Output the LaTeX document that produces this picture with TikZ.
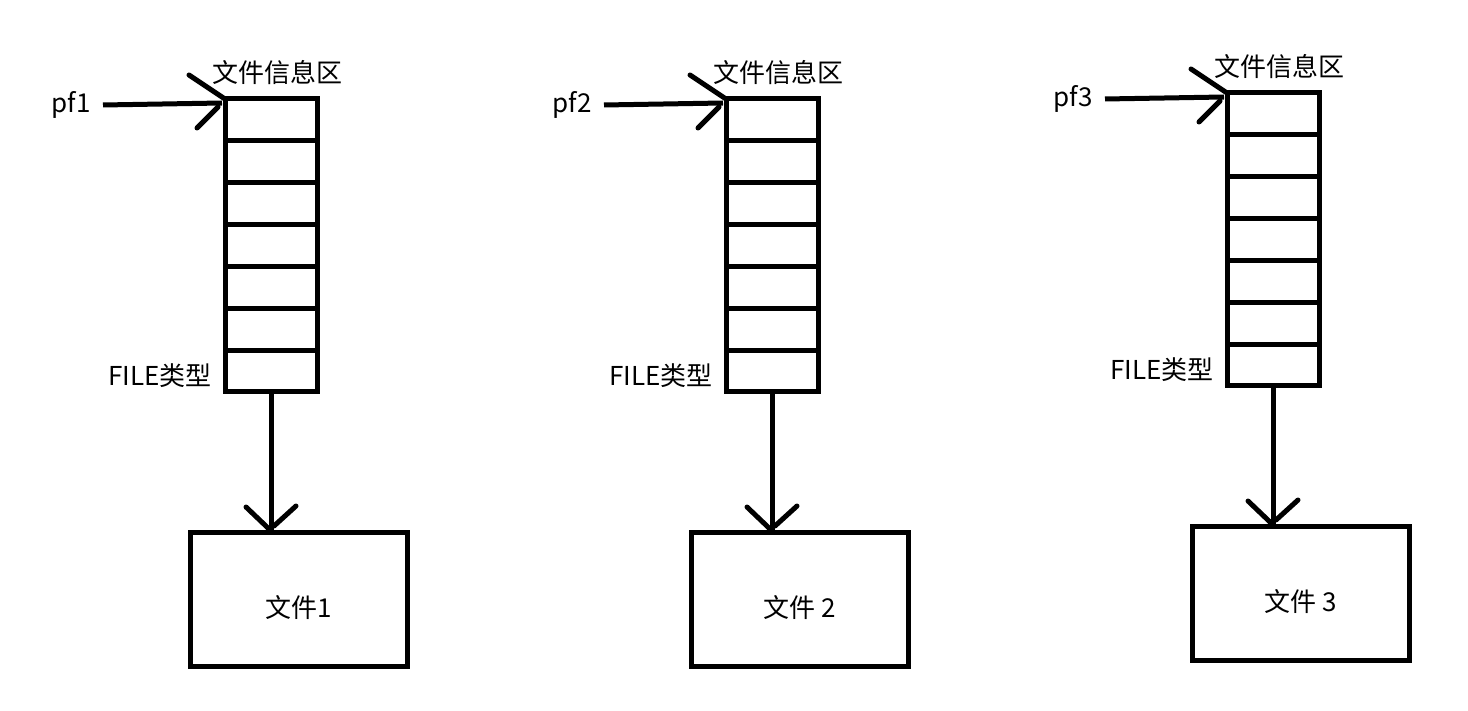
\documentclass[tikz,border=0pt]{standalone}
\usepackage{fontspec}
\setmainfont{Noto Sans CJK SC}
\usetikzlibrary{calc}
\begin{document}
\begin{tikzpicture}[x=1pt,y=-1pt,line width=5pt,
  lbl/.style={inner sep=0pt,font=\fontsize{26pt}{30pt}\selectfont},
  stackbox/.style={draw,minimum width=92pt,minimum height=293pt,inner sep=0pt,outer sep=0pt,anchor=north west},
  filebox/.style={draw,minimum width=217pt,minimum height=134pt,inner sep=0pt,outer sep=0pt,anchor=north west,
    text height=36pt,text depth=0pt,font=\fontsize{26pt}{30pt}\selectfont},
  barb/.style={line cap=round}]
\useasboundingbox[fill=white] (0,0) rectangle (1468,711);
\foreach \i/\x/\t/\f in {1/225/99/{文件1},2/726/99/{文件 2},3/1227/93/{文件 3}} {
  \node[stackbox] (s\i) at (\x,\t) {};
  \foreach \k in {1,...,6}
    \draw ($(s\i.north west)!\k/7!(s\i.south west)$) -- ($(s\i.north east)!\k/7!(s\i.south east)$);
  \node[lbl] (h\i) at (\x+52,\t-26) {文件信息区};
  \node[lbl,anchor=east] (p\i) at (\x-132,\t+6) {pf\i};
  \node[lbl,anchor=east] (t\i) at (\x-11,\t+277) {FILE类型};
  \node[filebox] (b\i) at (\x-35,\t+433) {\f};
  % pointer arrow
  \draw ([xshift=10pt]p\i.east) -- ([xshift=-3pt,yshift=-4pt]s\i.north west);
  \draw[barb] ([shift={(-36pt,24pt)}]s\i.north west) -- (s\i.north west);
  \draw[barb] ([shift={(-7pt,-8pt)}]s\i.north west) -- ([shift={(-28pt,-29pt)}]s\i.north west);
  % down arrow
  \coordinate (a\i) at (s\i.south |- b\i.north);
  \draw (s\i.south) -- (a\i);
  \draw[barb] ([shift={(-25pt,25pt)}]a\i) -- ([shift={(-3pt,4pt)}]a\i);
  \draw[barb] ([shift={(25pt,26pt)}]a\i) -- ([shift={(3pt,6pt)}]a\i);
}
\end{tikzpicture}
\end{document}
